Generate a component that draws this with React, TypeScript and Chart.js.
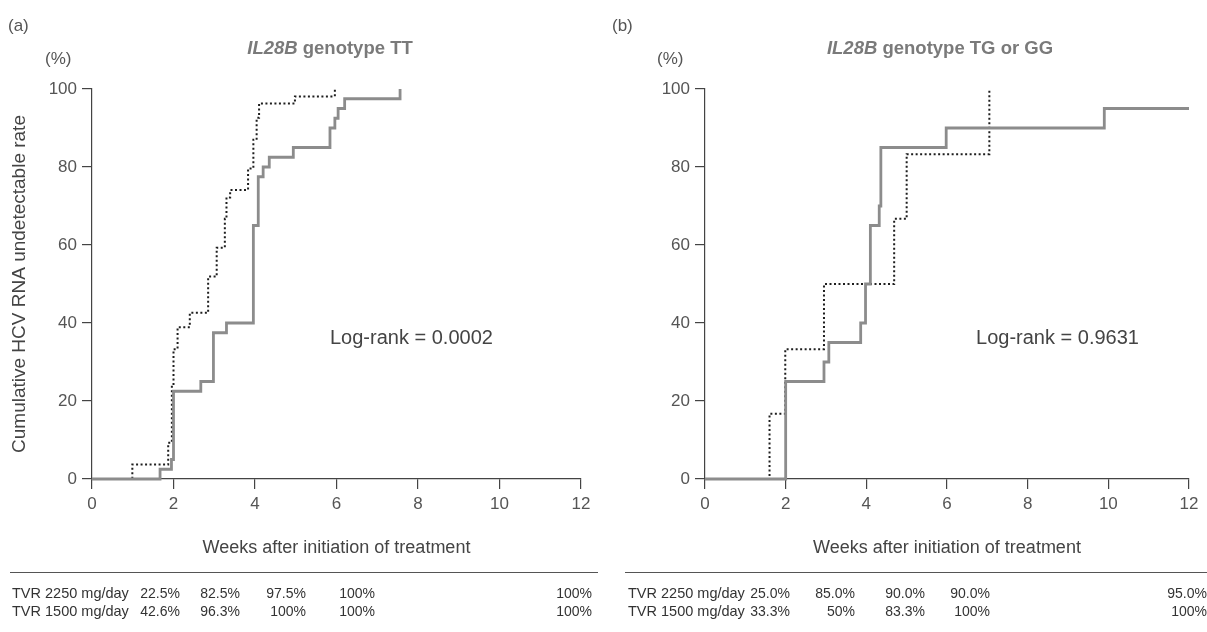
import React, { useEffect, useRef } from "react";
import { Chart, registerables } from "chart.js";

Chart.register(...registerables);

// ---------- data ----------
const weekTicks = [0, 2, 4, 6, 8, 10, 12];
const pctTicks = [0, 20, 40, 60, 80, 100];

// Panel (a) IL28B TT
const aSolidWeeks = [0, 1.67, 1.95, 2.0, 2.67, 2.98, 3.3, 3.96, 4.08, 4.2, 4.35, 4.94, 5.84, 5.96, 6.04, 6.2, 7.56];
const aSolidPct = [0, 2.5, 5, 22.5, 25, 37.5, 40, 65, 77.5, 80, 82.5, 85, 90, 92.5, 95, 97.5, 100];
const aDottedWeeks = [0, 0.99, 1.87, 1.96, 2.0, 2.1, 2.4, 2.85, 3.06, 3.26, 3.3, 3.39, 3.83, 3.96, 4.04, 4.1, 4.98, 5.96];
const aDottedPct = [0, 3.7, 9.3, 24.1, 33.3, 38.9, 42.6, 51.9, 59.3, 66.7, 72.2, 74.1, 79.6, 87.0, 92.6, 96.3, 98.1, 100];

// Panel (b) IL28B TG or GG
const bSolidWeeks = [0, 2.0, 2.95, 3.07, 3.86, 3.98, 4.1, 4.32, 4.36, 5.98, 9.9, 12];
const bSolidPct = [0, 25, 30, 35, 40, 50, 65, 70, 85, 90, 95, 95];
const bDottedWeeks = [0, 1.6, 1.99, 2.95, 4.69, 5.0, 7.05];
const bDottedPct = [0, 16.7, 33.3, 50, 66.7, 83.3, 100];

const logRankA = "Log-rank = 0.0002";
const logRankB = "Log-rank = 0.9631";

const rowLabels = ["TVR 2250 mg/day", "TVR 1500 mg/day"];
const tableA2250 = ["22.5%", "82.5%", "97.5%", "100%", "100%"];
const tableA1500 = ["42.6%", "96.3%", "100%", "100%", "100%"];
const tableB2250 = ["25.0%", "85.0%", "90.0%", "90.0%", "95.0%"];
const tableB1500 = ["33.3%", "50%", "83.3%", "100%", "100%"];

// ---------- layout ----------
const FONT = '"Liberation Sans", Arial, Helvetica, sans-serif';
const PAGE_H = 632;
const AREA_TOP = 89;
const AREA_BOTTOM = 479;
const X_AXIS_H = 80;

function toPts(xs: number[], ys: number[]) {
  return xs.map((x, i) => ({ x, y: ys[i] }));
}

type PanelProps = {
  left: number;
  width: number;
  areaLeft: number;
  areaRight: number;
  solid: { x: number; y: number }[];
  dotted: { x: number; y: number }[];
  logRank: string;
  logRankWeek: number;
  logRankPct: number;
  yTitle: boolean;
};

function Panel(p: PanelProps) {
  const ref = useRef<HTMLCanvasElement | null>(null);
  useEffect(() => {
    if (!ref.current) return;
    const textPlugin = {
      id: "logrank",
      afterDraw(chart: any) {
        const ctx = chart.ctx;
        const xs = chart.scales.x;
        const ys = chart.scales.y;
        ctx.save();
        ctx.font = `20px ${FONT}`;
        ctx.fillStyle = "#444";
        ctx.textAlign = "left";
        ctx.textBaseline = "middle";
        ctx.fillText(p.logRank, xs.getPixelForValue(p.logRankWeek), ys.getPixelForValue(p.logRankPct));
        ctx.restore();
      },
    };
    const chart = new Chart(ref.current, {
      type: "line",
      data: {
        datasets: [
          {
            data: p.solid,
            borderColor: "#8c8c8c",
            borderWidth: 2.8,
            stepped: true,
            pointRadius: 0,
            fill: false,
            clip: false as any,
          },
          {
            data: p.dotted,
            borderColor: "#1e1e1e",
            borderWidth: 2,
            borderDash: [2, 2.5],
            stepped: true,
            pointRadius: 0,
            fill: false,
            clip: false as any,
          },
        ],
      },
      options: {
        animation: false,
        responsive: false,
        events: [],
        layout: {
          padding: {
            left: 0,
            top: AREA_TOP,
            right: p.width - p.areaRight,
            bottom: PAGE_H - AREA_BOTTOM - X_AXIS_H,
          },
        },
        plugins: {
          legend: { display: false },
          tooltip: { enabled: false },
        },
        scales: {
          x: {
            type: "linear",
            min: 0,
            max: 12,
            afterBuildTicks: (s: any) => {
              s.ticks = weekTicks.map((v) => ({ value: v }));
            },
            afterFit: (s: any) => {
              s.height = X_AXIS_H;
            },
            grid: { drawOnChartArea: false, drawTicks: true, tickLength: 10, color: "#444", lineWidth: 1.2 },
            border: { display: true, color: "#444", width: 1.2 },
            ticks: { color: "#555", font: { family: FONT, size: 17 }, padding: 5, maxRotation: 0, autoSkip: false },
            title: {
              display: true,
              text: "Weeks after initiation of treatment",
              color: "#444",
              font: { family: FONT, size: 18 },
              padding: { top: 0, bottom: 0 },
            },
          },
          y: {
            type: "linear",
            min: 0,
            max: 100,
            afterBuildTicks: (s: any) => {
              s.ticks = pctTicks.map((v) => ({ value: v }));
            },
            afterFit: (s: any) => {
              s.width = p.areaLeft;
            },
            grid: { drawOnChartArea: false, drawTicks: true, tickLength: 10, color: "#444", lineWidth: 1.2 },
            border: { display: true, color: "#444", width: 1.2 },
            ticks: { color: "#555", font: { family: FONT, size: 17 }, padding: 5 },
            title: {
              display: p.yTitle,
              text: "Cumulative HCV RNA undetectable rate",
              color: "#444",
              font: { family: FONT, size: 19 },
              padding: { top: 8, bottom: 0 },
            },
          },
        },
      },
      plugins: [textPlugin],
    });
    return () => chart.destroy();
  }, []);
  return (
    <canvas
      ref={ref}
      width={p.width}
      height={PAGE_H}
      style={{ position: "absolute", left: p.left, top: 0, width: p.width, height: PAGE_H }}
    />
  );
}

function Txt(props: { x: number; y: number; align?: "left" | "right" | "center"; size?: number; style?: any; children: any }) {
  const a = props.align || "left";
  const tx = a === "right" ? "-100%" : a === "center" ? "-50%" : "0";
  return (
    <div
      style={{
        position: "absolute",
        left: props.x,
        top: props.y,
        transform: `translate(${tx}, -50%)`,
        fontSize: props.size || 17,
        lineHeight: 1,
        whiteSpace: "nowrap",
        color: "#555",
        ...(props.style || {}),
      }}
    >
      {props.children}
    </div>
  );
}

function Table(props: { labelX: number; colRights: number[]; rowA: string[]; rowB: string[]; lineX1: number; lineX2: number }) {
  const rows = [props.rowA, props.rowB];
  const ys = [593, 611];
  return (
    <>
      <div
        style={{
          position: "absolute",
          left: props.lineX1,
          top: 572,
          width: props.lineX2 - props.lineX1,
          height: 0,
          borderTop: "1.3px solid #555",
        }}
      />
      {rows.map((r, i) => (
        <React.Fragment key={i}>
          <Txt x={props.labelX} y={ys[i]} size={14.5} style={{ color: "#333" }}>
            {rowLabels[i]}
          </Txt>
          {r.map((v, j) => (
            <Txt key={j} x={props.colRights[j]} y={ys[i]} align="right" size={14} style={{ color: "#333" }}>
              {v}
            </Txt>
          ))}
        </React.Fragment>
      ))}
    </>
  );
}

export default function App() {
  return (
    <div
      style={{
        position: "absolute",
        left: 0,
        top: 0,
        width: 1207,
        height: PAGE_H,
        background: "#fff",
        fontFamily: FONT,
        overflow: "hidden",
      }}
    >
      <Panel
        left={0}
        width={600}
        areaLeft={92}
        areaRight={581}
        solid={toPts(aSolidWeeks, aSolidPct)}
        dotted={toPts(aDottedWeeks, aDottedPct)}
        logRank={logRankA}
        logRankWeek={5.84}
        logRankPct={36}
        yTitle={true}
      />
      <Panel
        left={600}
        width={607}
        areaLeft={105}
        areaRight={589}
        solid={toPts(bSolidWeeks, bSolidPct)}
        dotted={toPts(bDottedWeeks, bDottedPct)}
        logRank={logRankB}
        logRankWeek={6.72}
        logRankPct={36}
        yTitle={false}
      />
      <Txt x={8} y={25}>(a)</Txt>
      <Txt x={612} y={25}>(b)</Txt>
      <Txt x={45} y={58}>(%)</Txt>
      <Txt x={657} y={58}>(%)</Txt>
      <Txt x={330} y={48} align="center" size={18.5} style={{ fontWeight: "bold", color: "#7a7a7a" }}>
        <i>IL28B</i> genotype TT
      </Txt>
      <Txt x={940} y={48} align="center" size={18.5} style={{ fontWeight: "bold", color: "#7a7a7a" }}>
        <i>IL28B</i> genotype TG or GG
      </Txt>
      <Table labelX={12} colRights={[180, 240, 306, 375, 592]} rowA={tableA2250} rowB={tableA1500} lineX1={10} lineX2={598} />
      <Table labelX={628} colRights={[790, 855, 925, 990, 1207]} rowA={tableB2250} rowB={tableB1500} lineX1={625} lineX2={1207} />
    </div>
  );
}
